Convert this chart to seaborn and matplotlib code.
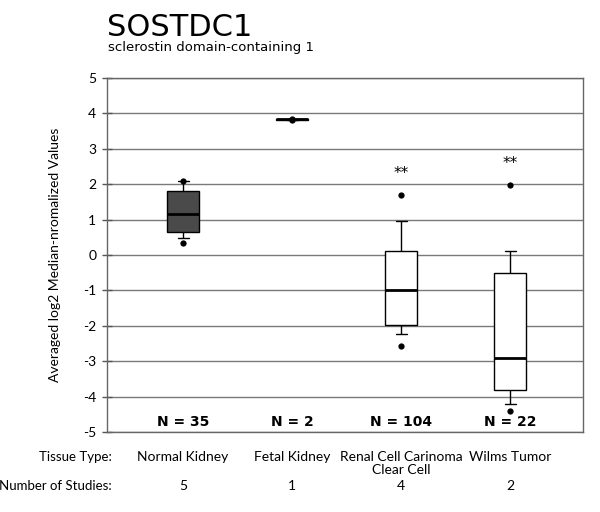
import pandas as pd
import matplotlib
matplotlib.use("Agg")
import matplotlib.pyplot as plt
import seaborn as sns

# tissue groups and the summary values
tissues = ['Normal Kidney', 'Fetal Kidney', 'Renal Cell Carinoma\nClear Cell', 'Wilms Tumor']
n_samples = [35, 2, 104, 22]
n_studies = [5, 1, 4, 2]
significant = [False, False, True, True]

# whiskers are 10th / 90th percentile, box is quartiles
p10 = [0.47, 3.82, -2.24, -4.22]
q1 = [0.64, 3.82, -1.98, -3.80]
median = [1.16, 3.83, -0.98, -2.92]
q3 = [1.80, 3.84, 0.10, -0.50]
p90 = [2.09, 3.84, 0.95, 0.12]
# dots are min / max
vmin = [0.33, 3.82, -2.58, -4.40]
vmax = [2.09, 3.85, 1.70, 1.98]

sns.set_style('white')
plt.rcParams['font.family'] = ['Lato', 'DejaVu Sans']
plt.rcParams['text.color'] = 'black'
plt.rcParams['ytick.color'] = 'black'
plt.rcParams['axes.labelcolor'] = 'black'
plt.rcParams['axes.unicode_minus'] = False

rows = []
for i, t in enumerate(tissues):
    for v in (p10[i], q1[i], median[i], q3[i], p90[i]):
        rows.append({'tissue': t, 'value': v})
box_df = pd.DataFrame(rows)

dots = pd.DataFrame({'tissue': tissues + tissues, 'value': vmin + vmax})

fig = plt.figure(figsize=(6, 5.12), dpi=100)
ax = fig.add_axes([0.178, 0.156, 0.794, 0.692])

fills = {t: 'white' for t in tissues}
fills[tissues[0]] = '#4a4a4a'

sns.boxplot(data=box_df, x='tissue', y='value', hue='tissue', order=tissues,
            palette=fills, legend=False, whis=(0, 100), width=0.29,
            linecolor='black', linewidth=1.0, showfliers=False,
            medianprops={'linewidth': 2.0, 'color': 'black'},
            capwidths=0.1, ax=ax)
sns.stripplot(data=dots, x='tissue', y='value', order=tissues, jitter=False,
              color='black', size=4.5, ax=ax, zorder=5)

ax.set_xlim(-0.70, 3.67)
ax.set_ylim(-5, 5)
ax.set_yticks(range(-5, 6))
ax.yaxis.grid(True, color='#7a7a7a', linewidth=1.0)
ax.set_axisbelow(True)
ax.set_xticks([])
ax.set_xlabel('')
ax.set_ylabel('Averaged log2 Median-nromalized Values', fontsize=10, labelpad=16)
ax.tick_params(axis='y', direction='inout', length=7, width=1, color='#555555',
               labelsize=10, left=True, pad=4)
for s in ax.spines.values():
    s.set_visible(True)
    s.set_color('#666666')
    s.set_linewidth(1.0)

for i in range(len(tissues)):
    ax.text(i, -4.72, 'N = %d' % n_samples[i], ha='center', va='center',
            fontsize=10, fontweight='bold', family=['DejaVu Sans'])
    if significant[i]:
        ax.text(i, vmax[i] + 0.6, '**', ha='center', va='center', fontsize=11,
                family=['DejaVu Sans'])
    ax.text(i, -0.052, tissues[i], transform=ax.get_xaxis_transform(),
            ha='center', va='top', fontsize=10, linespacing=1.15)
    ax.text(i, -0.153, str(n_studies[i]), transform=ax.get_xaxis_transform(),
            ha='center', va='center', fontsize=10)

fig.text(0.186, 1 - 457 / 512, 'Tissue Type:', ha='right', va='center', fontsize=9.5)
fig.text(0.186, 1 - 486 / 512, 'Number of Studies:', ha='right', va='center', fontsize=9.5)

fig.text(0.178, 1 - 27 / 512, 'SOSTDC1', ha='left', va='center', fontsize=22,
         family=['DejaVu Sans'])
fig.text(0.180, 1 - 47 / 512, 'sclerostin domain-containing 1', ha='left',
         va='center', fontsize=9.5, family=['DejaVu Sans'])

fig.savefig('out.png', dpi=100)
